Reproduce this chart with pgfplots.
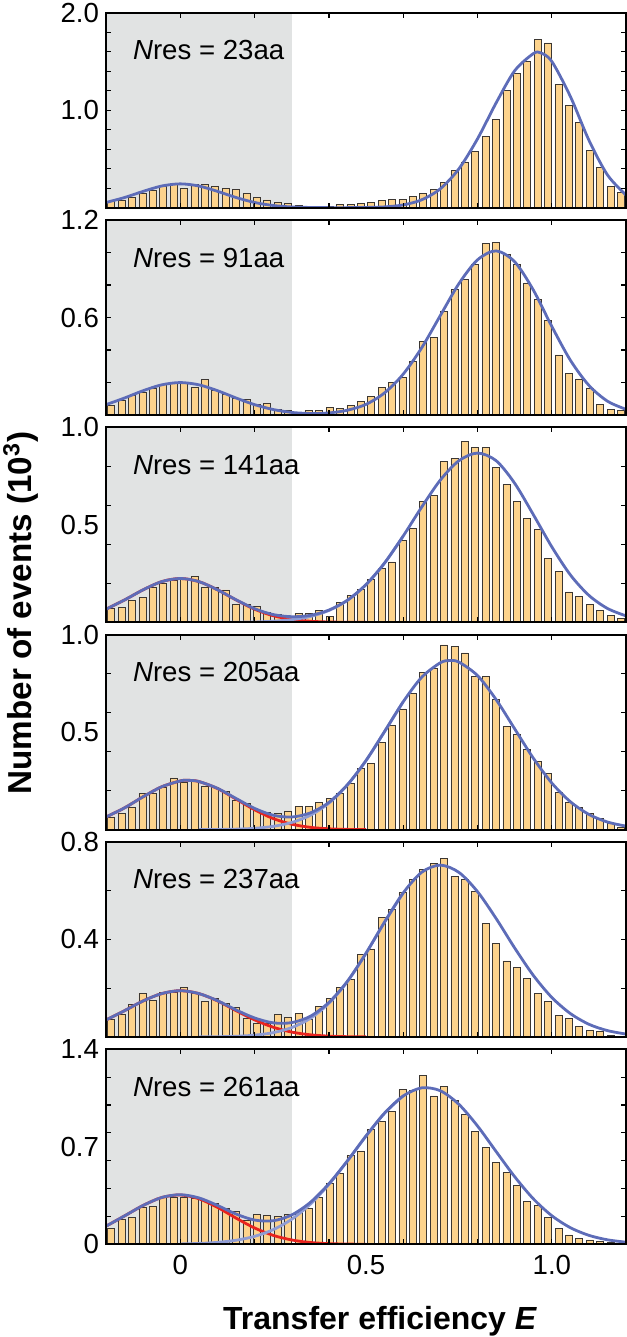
\documentclass[border=0pt]{standalone}
\usepackage{fontspec}
\setmainfont{Liberation Sans}
\usepackage{pgfplots}
\usepackage{pgfplotstable}
\pgfplotsset{compat=1.18}
\usepgfplotslibrary{groupplots}

\definecolor{barfill}{RGB}{253,211,140}
\definecolor{baredge}{RGB}{60,55,50}
\definecolor{bggray}{RGB}{225,227,227}
\definecolor{fitblue}{RGB}{93,108,184}
\definecolor{compblue}{RGB}{143,156,212}
\definecolor{compred}{RGB}{232,35,30}

\pgfplotstableread{
x p1 p2 p3 p4 p5 p6
-0.186 0.060 0.058 0.073 0.065 0.071 0.115
-0.158 0.080 0.088 0.076 0.082 0.092 0.178
-0.130 0.110 0.123 0.114 0.113 0.135 0.190
-0.102 0.150 0.140 0.127 0.184 0.179 0.262
-0.074 0.180 0.167 0.178 0.188 0.151 0.272
-0.046 0.220 0.190 0.200 0.218 0.181 0.340
-0.018 0.235 0.195 0.215 0.265 0.181 0.338
0.010 0.200 0.195 0.225 0.244 0.202 0.336
0.038 0.235 0.170 0.234 0.247 0.179 0.326
0.066 0.240 0.218 0.178 0.224 0.147 0.318
0.094 0.215 0.150 0.178 0.215 0.158 0.290
0.122 0.200 0.130 0.166 0.198 0.137 0.260
0.150 0.190 0.105 0.093 0.150 0.120 0.236
0.178 0.150 0.095 0.090 0.133 0.076 0.175
0.206 0.110 0.064 0.080 0.099 0.055 0.215
0.234 0.080 0.072 0.051 0.087 0.055 0.210
0.262 0.055 0.037 0.039 0.085 0.092 0.200
0.290 0.040 0.027 0.025 0.096 0.080 0.215
0.318 0.025 0.014 0.046 0.119 0.096 0.232
0.346 0.012 0.027 0.046 0.119 0.071 0.258
0.374 0.008 0.027 0.059 0.138 0.126 0.335
0.402 0.010 0.047 0.029 0.159 0.158 0.440
0.430 0.030 0.043 0.100 0.184 0.203 0.510
0.458 0.035 0.058 0.136 0.235 0.236 0.635
0.486 0.040 0.084 0.170 0.312 0.337 0.670
0.514 0.058 0.115 0.220 0.338 0.361 0.827
0.542 0.075 0.170 0.276 0.449 0.492 0.879
0.570 0.086 0.200 0.310 0.534 0.522 0.956
0.598 0.086 0.232 0.420 0.619 0.591 1.111
0.626 0.120 0.331 0.480 0.700 0.646 1.106
0.654 0.144 0.455 0.622 0.807 0.687 1.209
0.682 0.188 0.479 0.653 0.828 0.712 1.065
0.710 0.257 0.640 0.825 0.947 0.731 1.130
0.738 0.384 0.770 0.842 0.939 0.660 1.034
0.766 0.470 0.835 0.927 0.906 0.646 0.932
0.794 0.580 0.928 0.898 0.785 0.598 0.807
0.822 0.733 1.055 0.898 0.785 0.467 0.693
0.850 0.907 1.060 0.793 0.666 0.385 0.585
0.878 1.205 0.990 0.707 0.529 0.312 0.516
0.906 1.377 0.926 0.622 0.486 0.286 0.425
0.934 1.500 0.813 0.534 0.410 0.241 0.310
0.962 1.730 0.710 0.475 0.350 0.179 0.277
0.990 1.690 0.582 0.330 0.287 0.144 0.191
1.018 1.260 0.370 0.263 0.190 0.087 0.115
1.046 1.050 0.257 0.156 0.142 0.076 0.067
1.074 0.873 0.222 0.132 0.116 0.044 0.043
1.102 0.589 0.167 0.090 0.085 0.027 0.031
1.130 0.410 0.064 0.059 0.056 0.021 0.019
1.158 0.220 0.037 0.034 0.031 0.007 0.010
1.186 0.154 0.027 0.022 0.012 0.003 0.005
}\bars

\pgfplotsset{
  barstyle/.style={ybar, bar width=0.019, fill=barfill, draw=baredge, line width=0.4pt},
  fitline/.style={fitblue, line width=1.4pt, smooth, no markers},
  redline/.style={compred, line width=1.4pt, smooth, no markers},
  compline/.style={compblue, line width=1.4pt, smooth, no markers},
}
\newcommand{\lblfont}{\fontsize{13.8}{16}\selectfont}

\begin{document}
\begin{tikzpicture}
\begin{groupplot}[
  group style={group size=1 by 6, vertical sep=6.13pt},
  width=260pt, height=97.5pt, scale only axis,
  xmin=-0.2, xmax=1.2, ymin=0,
  axis on top,
  axis line style={line width=1.1pt},
  tick style={line width=0.6pt, black},
  xtick={0,0.5,1}, xticklabels={},
  minor xtick={0,0.2,0.4,0.6,0.8,1.0},
  major tick length=0pt, minor tick length=2.5pt,
  tick align=inside,
  tick label style={font=\lblfont},
  xticklabel style={yshift=-1.8pt},
  /pgf/number format/assume math mode=true,
]
% Panel 1
\nextgroupplot[ymax=2.0, ytick={1,2}, yticklabels={1.0,2.0},
  minor ytick={0.2,0.4,0.6,0.8,1.0,1.2,1.4,1.6,1.8}]
\fill[bggray] (axis cs:-0.2,0) rectangle (axis cs:0.3,2.0);
\addplot[barstyle] table[x=x,y=p1]{\bars};
\addplot[fitline] coordinates {(-0.2,0.054) (-0.15,0.105) (-0.1,0.168) (-0.05,0.223) (0,0.245) (0.05,0.223) (0.1,0.168) (0.15,0.105) (0.2,0.054) (0.25,0.023) (0.3,0.008) (0.35,0.003) (0.4,0.001) (0.45,0.001) (0.5,0.003) (0.55,0.009) (0.6,0.029) (0.65,0.082) (0.7,0.195) (0.75,0.4) (0.8,0.707) (0.85,1.075) (0.9,1.405) (0.95,1.58) (0.97,1.588) (1.0,1.5) (1.05,1.14) (1.1,0.691) (1.15,0.335) (1.2,0.129)};
\node[anchor=base west, font=\lblfont, xshift=10pt, yshift=-23.5pt] at (rel axis cs:0,1) {\textit{N}res = 23aa};
% Panel 2
\nextgroupplot[ymax=1.2, ytick={0.6,1.2}, yticklabels={0.6,1.2},
  minor ytick={0.2,0.4,0.6,0.8,1.0}]
\fill[bggray] (axis cs:-0.2,0) rectangle (axis cs:0.3,1.2);
\addplot[barstyle] table[x=x,y=p2]{\bars};
\addplot[fitline] coordinates {(-0.2,0.064) (-0.15,0.105) (-0.1,0.15) (-0.05,0.186) (0,0.2) (0.05,0.186) (0.1,0.15) (0.15,0.105) (0.2,0.064) (0.25,0.034) (0.3,0.016) (0.35,0.01) (0.4,0.013) (0.45,0.03) (0.5,0.066) (0.55,0.137) (0.6,0.252) (0.65,0.415) (0.7,0.613) (0.75,0.809) (0.8,0.955) (0.85,1.01) (0.9,0.943) (0.95,0.77) (1.0,0.545) (1.05,0.337) (1.1,0.182) (1.15,0.085) (1.2,0.035)};
\node[anchor=base west, font=\lblfont, xshift=10pt, yshift=-23.5pt] at (rel axis cs:0,1) {\textit{N}res = 91aa};
% Panel 3
\nextgroupplot[ymax=1.0, ytick={0.5,1.0}, yticklabels={0.5,1.0},
  minor ytick={0.2,0.4,0.6,0.8}]
\fill[bggray] (axis cs:-0.2,0) rectangle (axis cs:0.3,1.0);
\addplot[barstyle] table[x=x,y=p3]{\bars};
\addplot[redline] coordinates {(-0.2,0.0675) (-0.15,0.115) (-0.1,0.167) (-0.05,0.209) (0,0.225) (0.05,0.209) (0.1,0.167) (0.15,0.115) (0.2,0.0675) (0.25,0.034) (0.3,0.015) (0.35,0.0057) (0.4,0.0018) (0.45,0.0005) (0.5,0)};
\addplot[compline] coordinates {(0.1,0.0003) (0.15,0.0008) (0.2,0.002) (0.25,0.006) (0.3,0.014) (0.35,0.030) (0.4,0.061) (0.45,0.113) (0.5,0.194) (0.55,0.305) (0.6,0.443)};
\addplot[fitline] coordinates {(-0.2,0.0675) (-0.15,0.115) (-0.1,0.167) (-0.05,0.209) (0,0.225) (0.05,0.209) (0.1,0.167) (0.15,0.116) (0.2,0.07) (0.25,0.04) (0.3,0.029) (0.35,0.036) (0.4,0.063) (0.45,0.114) (0.5,0.194) (0.55,0.305) (0.6,0.443) (0.65,0.592) (0.7,0.73) (0.75,0.829) (0.8,0.868) (0.85,0.829) (0.9,0.713) (0.95,0.553) (1.0,0.387) (1.05,0.243) (1.1,0.138) (1.15,0.071) (1.2,0.033)};
\node[anchor=base west, font=\lblfont, xshift=10pt, yshift=-23.5pt] at (rel axis cs:0,1) {\textit{N}res = 141aa};
% Panel 4
\nextgroupplot[ymax=1.0, ytick={0.5,1.0}, yticklabels={0.5,1.0},
  minor ytick={0.2,0.4,0.6,0.8}]
\fill[bggray] (axis cs:-0.2,0) rectangle (axis cs:0.3,1.0);
\addplot[barstyle] table[x=x,y=p4]{\bars};
\addplot[redline] coordinates {(-0.2,0.065) (-0.15,0.112) (-0.1,0.169) (-0.05,0.22) (0,0.25) (0.02,0.253) (0.05,0.247) (0.1,0.211) (0.15,0.157) (0.2,0.102) (0.25,0.057) (0.3,0.028) (0.35,0.012) (0.4,0.0044) (0.45,0.0014) (0.5,0.0004)};
\addplot[compline] coordinates {(0.05,0.0003) (0.1,0.001) (0.15,0.0027) (0.2,0.0071) (0.25,0.017) (0.3,0.037) (0.35,0.074) (0.4,0.136) (0.45,0.23) (0.5,0.355) (0.55,0.504) (0.6,0.656)};
\addplot[fitline] coordinates {(-0.2,0.065) (-0.15,0.112) (-0.1,0.169) (-0.05,0.22) (0,0.25) (0.02,0.253) (0.05,0.247) (0.1,0.212) (0.15,0.16) (0.2,0.109) (0.25,0.074) (0.3,0.065) (0.35,0.086) (0.4,0.14) (0.45,0.231) (0.5,0.355) (0.55,0.504) (0.6,0.656) (0.65,0.782) (0.7,0.856) (0.725,0.867) (0.75,0.859) (0.8,0.79) (0.85,0.667) (0.9,0.517) (0.95,0.367) (1.0,0.239) (1.05,0.143) (1.1,0.078) (1.15,0.039) (1.2,0.018)};
\node[anchor=base west, font=\lblfont, xshift=10pt, yshift=-23.5pt] at (rel axis cs:0,1) {\textit{N}res = 205aa};
% Panel 5
\nextgroupplot[ymax=0.8, ytick={0.4,0.8}, yticklabels={0.4,0.8},
  minor ytick={0.2,0.4,0.6}]
\fill[bggray] (axis cs:-0.2,0) rectangle (axis cs:0.3,0.8);
\addplot[barstyle] table[x=x,y=p5]{\bars};
\addplot[redline] coordinates {(-0.2,0.07) (-0.15,0.108) (-0.1,0.148) (-0.05,0.178) (0,0.19) (0.05,0.178) (0.1,0.148) (0.15,0.108) (0.2,0.07) (0.25,0.04) (0.3,0.02) (0.35,0.0089) (0.4,0.0035) (0.45,0.0012) (0.5,0.0004)};
\addplot[compline] coordinates {(0.05,0.0003) (0.1,0.001) (0.15,0.0029) (0.2,0.0075) (0.25,0.0178) (0.3,0.0386) (0.35,0.0764) (0.4,0.138) (0.45,0.228) (0.5,0.344) (0.55,0.472) (0.6,0.591)};
\addplot[fitline] coordinates {(-0.2,0.07) (-0.15,0.108) (-0.1,0.148) (-0.05,0.178) (0,0.19) (0.05,0.178) (0.1,0.149) (0.15,0.111) (0.2,0.078) (0.25,0.058) (0.3,0.059) (0.35,0.085) (0.4,0.142) (0.45,0.229) (0.5,0.344) (0.55,0.472) (0.6,0.591) (0.65,0.676) (0.7,0.705) (0.75,0.675) (0.8,0.596) (0.85,0.486) (0.9,0.365) (0.95,0.253) (1.0,0.162) (1.05,0.096) (1.1,0.052) (1.15,0.026) (1.2,0.012)};
\node[anchor=base west, font=\lblfont, xshift=10pt, yshift=-23.5pt] at (rel axis cs:0,1) {\textit{N}res = 237aa};
% Panel 6
\nextgroupplot[ymax=1.4, ytick={0,0.7,1.4}, yticklabels={0,0.7,1.4},
  minor ytick={0.2,0.4,0.6,0.8,1.0,1.2},
  xticklabels={0,0.5,1.0}]
\fill[bggray] (axis cs:-0.2,0) rectangle (axis cs:0.3,1.4);
\addplot[barstyle] table[x=x,y=p6]{\bars};
\addplot[redline] coordinates {(-0.2,0.13) (-0.15,0.204) (-0.1,0.279) (-0.05,0.336) (0,0.354) (0.05,0.327) (0.1,0.265) (0.15,0.188) (0.2,0.117) (0.25,0.064) (0.3,0.031) (0.35,0.0128) (0.4,0.0047) (0.45,0.0015) (0.5,0.0004)};
\addplot[compline] coordinates {(0,0.0025) (0.05,0.006) (0.1,0.0138) (0.15,0.029) (0.2,0.057) (0.25,0.105) (0.3,0.18) (0.35,0.288) (0.4,0.43) (0.45,0.599) (0.5,0.778) (0.55,0.942) (0.6,1.065)};
\addplot[fitline] coordinates {(-0.2,0.13) (-0.15,0.204) (-0.1,0.279) (-0.05,0.336) (0,0.356) (0.05,0.333) (0.1,0.279) (0.15,0.217) (0.2,0.174) (0.25,0.169) (0.3,0.211) (0.35,0.301) (0.4,0.435) (0.45,0.6) (0.5,0.778) (0.55,0.942) (0.6,1.065) (0.65,1.123) (0.7,1.102) (0.75,1.004) (0.8,0.849) (0.85,0.666) (0.9,0.485) (0.95,0.327) (1.0,0.205) (1.05,0.119) (1.1,0.064) (1.15,0.032) (1.2,0.015)};
\node[anchor=base west, font=\lblfont, xshift=10pt, yshift=-23.5pt] at (rel axis cs:0,1) {\textit{N}res = 261aa};
\end{groupplot}
\node[rotate=90, font=\bfseries\fontsize{16.6}{20}\selectfont] at ([xshift=-42.5pt, yshift=4.7pt]group c1r3.south west) {Number of events (10\textsuperscript{3})};
\node[anchor=base, font=\bfseries\fontsize{16}{19}\selectfont] at ([xshift=7pt, yshift=-42.5pt]group c1r6.south) {Transfer efficiency \textit{E}};
\pgfresetboundingbox
\path[use as bounding box] ([xshift=-53pt, yshift=6.35pt]group c1r1.north west) rectangle ([yshift=-46.35pt]group c1r6.south east);
\end{tikzpicture}
\end{document}
